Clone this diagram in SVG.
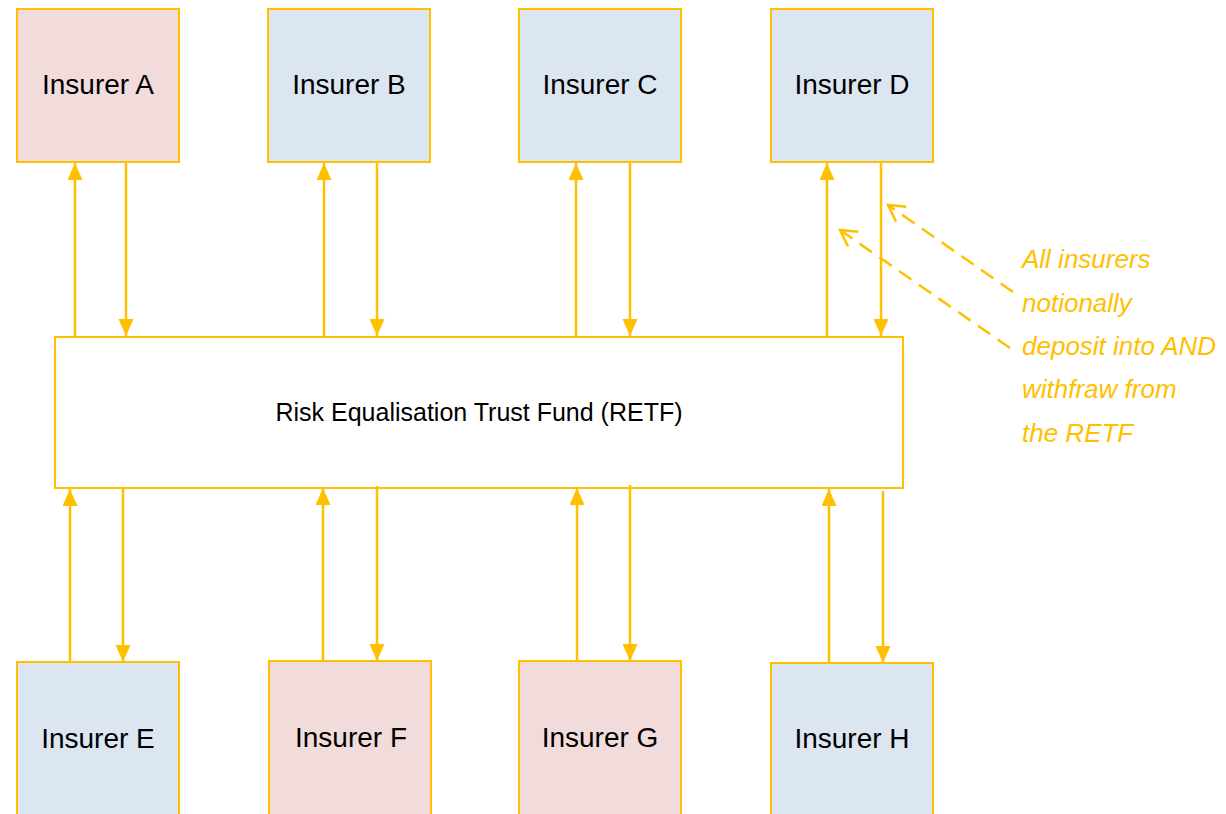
<svg xmlns="http://www.w3.org/2000/svg" width="1226" height="814" viewBox="0 0 1226 814">
<defs>
<style>
.box{stroke:#FFC000;stroke-width:2}
.pink{fill:#F2DCDB}
.blue{fill:#DCE6F1}
.lbl{font-family:"Liberation Sans",Arial,sans-serif;font-size:28px;fill:#000;text-anchor:middle}
.conn{stroke:#FFC000;stroke-width:2.5;fill:none}
.solid{marker-end:url(#ah)}
.dash{stroke-dasharray:15,9;marker-end:url(#oh)}
.note{font-family:"Liberation Sans",Arial,sans-serif;font-size:26px;font-style:italic;fill:#FFC000}
</style>
<marker id="ah" markerUnits="userSpaceOnUse" markerWidth="18" markerHeight="16" refX="17" refY="7.5" orient="auto">
<path d="M0,0 L17,7.5 L0,15 z" fill="#FFC000"/>
</marker>
<marker id="oh" markerUnits="userSpaceOnUse" markerWidth="22" markerHeight="22" refX="17" refY="10" orient="auto">
<path d="M1,1 L17,10 L1,19" fill="none" stroke="#FFC000" stroke-width="2.5"/>
</marker>
</defs>
<rect width="1226" height="814" fill="#fff"/>
<g id="insurer-a"><rect class="box pink" x="17" y="9" width="162" height="153"/><text class="lbl" x="98" y="94">Insurer A</text></g>
<g id="insurer-b"><rect class="box blue" x="268" y="9" width="162" height="153"/><text class="lbl" x="349" y="94">Insurer B</text></g>
<g id="insurer-c"><rect class="box blue" x="519" y="9" width="162" height="153"/><text class="lbl" x="600" y="94">Insurer C</text></g>
<g id="insurer-d"><rect class="box blue" x="771" y="9" width="162" height="153"/><text class="lbl" x="852" y="94">Insurer D</text></g>
<g id="retf"><rect class="box" fill="#fff" x="55" y="337" width="848" height="151"/><text x="479" y="421" font-family="Liberation Sans,Arial,sans-serif" font-size="25" text-anchor="middle" fill="#000">Risk Equalisation Trust Fund (RETF)</text></g>
<g id="insurer-e"><rect class="box blue" x="17" y="662" width="162" height="160"/><text class="lbl" x="98" y="748">Insurer E</text></g>
<g id="insurer-f"><rect class="box pink" x="269" y="661" width="162" height="160"/><text class="lbl" x="351" y="747">Insurer F</text></g>
<g id="insurer-g"><rect class="box pink" x="519" y="661" width="162" height="160"/><text class="lbl" x="600" y="747">Insurer G</text></g>
<g id="insurer-h"><rect class="box blue" x="771" y="663" width="162" height="160"/><text class="lbl" x="852" y="748">Insurer H</text></g>
<g id="connectors">
<path class="conn solid" d="M75,336 V163"/>
<path class="conn solid" d="M126,163 V336"/>
<path class="conn solid" d="M324,336 V163"/>
<path class="conn solid" d="M377,163 V336"/>
<path class="conn solid" d="M576,336 V163"/>
<path class="conn solid" d="M630,163 V336"/>
<path class="conn solid" d="M827,336 V163"/>
<path class="conn solid" d="M881,163 V336"/>
<path class="conn solid" d="M70,662 V489"/>
<path class="conn solid" d="M123,489 V662"/>
<path class="conn solid" d="M323,661 V488"/>
<path class="conn solid" d="M377,486 V661"/>
<path class="conn solid" d="M577,661 V488"/>
<path class="conn solid" d="M630,485 V661"/>
<path class="conn solid" d="M829,663 V489"/>
<path class="conn solid" d="M883,491 V663"/>
<path class="conn dash" d="M1013,292 L888,205"/>
<path class="conn dash" d="M1010,348 L840,230"/>
</g>
<g id="note">
<text class="note" x="1022" y="268">All insurers</text>
<text class="note" x="1022" y="312">notionally</text>
<text class="note" x="1022" y="355">deposit into AND</text>
<text class="note" x="1022" y="398">withfraw from</text>
<text class="note" x="1022" y="442">the RETF</text>
</g>
</svg>
